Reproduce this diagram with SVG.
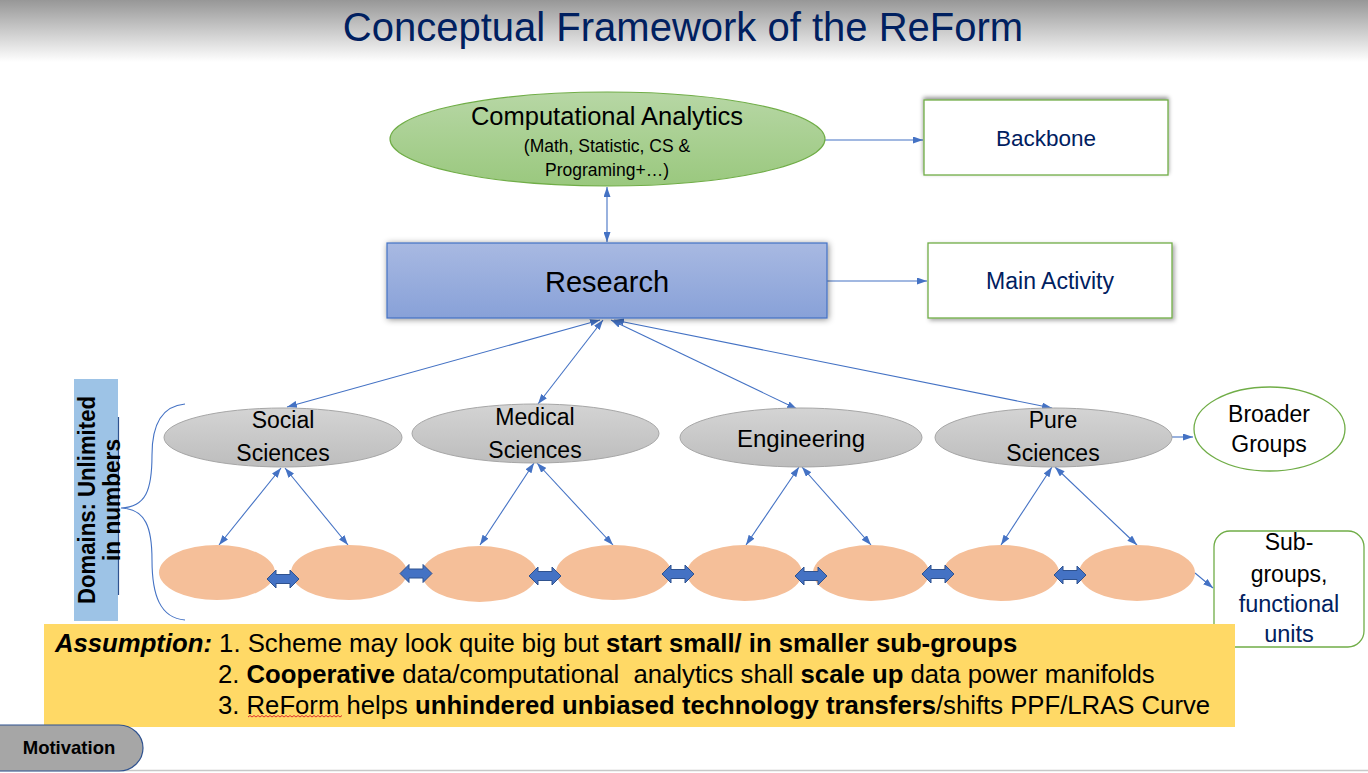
<svg xmlns="http://www.w3.org/2000/svg" width="1368" height="773" viewBox="0 0 1368 773">
<defs>
<linearGradient id="hdr" x1="0" y1="0" x2="0" y2="1"><stop offset="0" stop-color="#979797"/><stop offset="1" stop-color="#ffffff"/></linearGradient>
<linearGradient id="gGreen" x1="0" y1="0" x2="0" y2="1"><stop offset="0" stop-color="#b7d7a5"/><stop offset="1" stop-color="#9ac87e"/></linearGradient>
<linearGradient id="gBlue" x1="0" y1="0" x2="0" y2="1"><stop offset="0" stop-color="#a8b9e2"/><stop offset="1" stop-color="#88a1d8"/></linearGradient>
<linearGradient id="gGray" x1="0" y1="0" x2="0" y2="1"><stop offset="0" stop-color="#d4d4d4"/><stop offset="1" stop-color="#bdbdbd"/></linearGradient>
<filter id="shR" x="-10%" y="-30%" width="120%" height="160%"><feDropShadow dx="1" dy="1" stdDeviation="3" flood-color="#000" flood-opacity="0.45"/></filter>
<filter id="shUp" x="-10%" y="-30%" width="120%" height="160%"><feDropShadow dx="0" dy="-2" stdDeviation="2" flood-color="#000" flood-opacity="0.45"/></filter>
<filter id="shDn" x="-10%" y="-30%" width="120%" height="160%"><feDropShadow dx="2" dy="2" stdDeviation="2" flood-color="#000" flood-opacity="0.35"/></filter>
<marker id="ah" viewBox="0 0 10 7" refX="10" refY="3.5" markerWidth="10" markerHeight="7" markerUnits="userSpaceOnUse" orient="auto-start-reverse"><path d="M0,0 L10,3.5 L0,7 z" fill="#4472c4"/></marker>
<path id="dbl" d="M-16,0 L-7,-9 L-7,-4.5 L7,-4.5 L7,-9 L16,0 L7,9 L7,4.5 L-7,4.5 L-7,9 Z"/>
</defs>
<style>
.t{font-family:"Liberation Sans",Arial,sans-serif;}
.c{text-anchor:middle;}
.k{fill:#000;}
.n{fill:#002060;}
.line{stroke:#4472c4;stroke-width:1.1;fill:none;}
.both{marker-start:url(#ah);marker-end:url(#ah);}
.end{marker-end:url(#ah);}
.dom{fill:url(#gGray);stroke:#a6a6a6;stroke-width:1;}
.sub{fill:#f5bf99;}
.blk{fill:#4472c4;stroke:#2f528f;stroke-width:1;}
.gbox{fill:#fff;stroke:#70ad47;stroke-width:1.3;}
.b{font-weight:bold;}
</style>

<rect x="0" y="0" width="1368" height="62" fill="url(#hdr)"/>
<text class="t c" x="683" y="41" font-size="40" fill="#002060">Conceptual Framework of the ReForm</text>
<line x1="0" y1="770.5" x2="1368" y2="770.5" stroke="#c8c8c8" stroke-width="1.5"/>

<g id="connectors">
<line class="line end" x1="825" y1="140" x2="923" y2="140"/>
<line class="line both" x1="607" y1="187" x2="607" y2="242"/>
<line class="line end" x1="827" y1="281" x2="927" y2="281"/>
<line class="line both" x1="600" y1="320" x2="287" y2="407"/>
<line class="line both" x1="603" y1="320" x2="538" y2="404"/>
<line class="line both" x1="611" y1="320" x2="797" y2="409"/>
<line class="line both" x1="614" y1="320" x2="1052" y2="408"/>
<line class="line end" x1="1172" y1="437" x2="1193" y2="437"/>
<line class="line both" x1="281" y1="468" x2="219" y2="545"/>
<line class="line both" x1="285" y1="468" x2="348" y2="545"/>
<line class="line both" x1="534" y1="463" x2="480" y2="545"/>
<line class="line both" x1="537" y1="463" x2="613" y2="545"/>
<line class="line both" x1="799" y1="467" x2="746" y2="545"/>
<line class="line both" x1="802" y1="467" x2="871" y2="545"/>
<line class="line both" x1="1052" y1="467" x2="1001" y2="545"/>
<line class="line both" x1="1055" y1="467" x2="1137" y2="545"/>
<line class="line end" x1="1195" y1="573" x2="1213" y2="588"/>
</g>

<g id="brace">
<path d="M185,404 C162,406 152,425 152,455 C152,490 146,507 121,508 C146,509 152,528 152,560 C152,595 160,618 185,620" fill="none" stroke="#4472c4" stroke-width="1.1"/>
</g>

<g id="computational-analytics">
<ellipse cx="607.5" cy="139" rx="217.5" ry="47" fill="url(#gGreen)" stroke="#70ad47" stroke-width="1.2"/>
<text class="t c k" x="607" y="125" font-size="25.5">Computational Analytics</text>
<text class="t c k" x="607" y="152" font-size="17.5">(Math, Statistic, CS &amp;</text>
<text class="t c k" x="607" y="176" font-size="17.5">Programing+…)</text>
</g>

<g id="backbone">
<rect class="gbox" x="924" y="100" width="244" height="75" filter="url(#shUp)"/>
<text class="t c n" x="1046" y="146" font-size="22.5">Backbone</text>
</g>

<g id="research">
<rect x="387" y="243" width="440" height="75" fill="url(#gBlue)" stroke="#4472c4" stroke-width="1.2" filter="url(#shR)"/>
<text class="t c k" x="607" y="292" font-size="29">Research</text>
</g>

<g id="main-activity">
<rect class="gbox" x="928" y="243" width="244" height="75" filter="url(#shDn)"/>
<text class="t c n" x="1050" y="289" font-size="23">Main Activity</text>
</g>

<g id="social-sciences">
<ellipse class="dom" cx="283" cy="437.5" rx="119" ry="29.5"/>
<text class="t c k" x="283" y="428" font-size="23">Social</text>
<text class="t c k" x="283" y="461" font-size="23">Sciences</text>
</g>
<g id="medical-sciences">
<ellipse class="dom" cx="535.5" cy="433.5" rx="123.5" ry="29.5"/>
<text class="t c k" x="535" y="425" font-size="23">Medical</text>
<text class="t c k" x="535" y="458" font-size="23">Sciences</text>
</g>
<g id="engineering">
<ellipse class="dom" cx="801" cy="437.5" rx="121" ry="29.5"/>
<text class="t c k" x="801" y="447" font-size="24">Engineering</text>
</g>
<g id="pure-sciences">
<ellipse class="dom" cx="1053.5" cy="437.5" rx="118.5" ry="29.5"/>
<text class="t c k" x="1053" y="428" font-size="23">Pure</text>
<text class="t c k" x="1053" y="461" font-size="23">Sciences</text>
</g>

<g id="broader-groups">
<ellipse cx="1269.5" cy="429" rx="75.5" ry="42" fill="#fff" stroke="#70ad47" stroke-width="1.3"/>
<text class="t c k" x="1269" y="422" font-size="23">Broader</text>
<text class="t c k" x="1269" y="452" font-size="23">Groups</text>
</g>

<g id="sub-groups">
<rect class="gbox" x="1214" y="531" width="150" height="116" rx="16" ry="16"/>
<text class="t c k" x="1289" y="550" font-size="23">Sub-</text>
<text class="t c k" x="1289" y="582" font-size="23">groups,</text>
<text class="t c n" x="1289" y="612" font-size="23.5">functional</text>
<text class="t c n" x="1289" y="642" font-size="23.5">units</text>
</g>

<g id="sub-units">
<ellipse class="sub" cx="217" cy="572.5" rx="58" ry="27.5"/>
<ellipse class="sub" cx="349" cy="572.5" rx="58" ry="27.5"/>
<ellipse class="sub" cx="479.5" cy="574" rx="57.5" ry="28"/>
<ellipse class="sub" cx="613.5" cy="572.5" rx="57.5" ry="27.5"/>
<ellipse class="sub" cx="744.5" cy="573" rx="57.5" ry="28"/>
<ellipse class="sub" cx="871" cy="573" rx="58" ry="28"/>
<ellipse class="sub" cx="1001" cy="573" rx="58" ry="28"/>
<ellipse class="sub" cx="1137" cy="573" rx="58" ry="28"/>
</g>

<g id="block-arrows">
<use href="#dbl" class="blk" x="283" y="579"/>
<use href="#dbl" class="blk" x="416" y="573.5"/>
<use href="#dbl" class="blk" x="545" y="576"/>
<use href="#dbl" class="blk" x="678" y="574"/>
<use href="#dbl" class="blk" x="811" y="576"/>
<use href="#dbl" class="blk" x="938" y="574"/>
<use href="#dbl" class="blk" x="1070" y="575"/>
</g>

<g id="domains-label">
<rect x="74" y="379" width="44" height="242" fill="#9dc3e6"/>
<line x1="118.5" y1="417" x2="118.5" y2="595" stroke="#2f528f" stroke-width="1.2"/>
<text class="t c b k" transform="translate(95,500) rotate(-90)" font-size="24" textLength="208" lengthAdjust="spacingAndGlyphs">Domains: Unlimited</text>
<text class="t c b k" transform="translate(120,500) rotate(-90)" font-size="24" textLength="122" lengthAdjust="spacingAndGlyphs">in numbers</text>
</g>

<g id="assumption">
<rect x="44" y="624" width="1191" height="103" fill="#ffd966"/>
<text class="t k" x="55" y="652" font-size="25.7" xml:space="preserve"><tspan font-weight="bold" font-style="italic">Assumption:</tspan> 1. Scheme may look quite big but <tspan font-weight="bold">start small/ in smaller sub-groups</tspan></text>
<text class="t k" x="218" y="683" font-size="25.7" xml:space="preserve">2. <tspan font-weight="bold">Cooperative</tspan> data/computational  analytics shall <tspan font-weight="bold">scale up</tspan> data power manifolds</text>
<text class="t k" x="218" y="714" font-size="25.7" xml:space="preserve">3. ReForm helps <tspan font-weight="bold">unhindered unbiased technology transfers</tspan>/shifts PPF/LRAS Curve</text>
<path d="M248,717 l2,-1.5 l2,1.5 l2,-1.5 l2,1.5 l2,-1.5 l2,1.5 l2,-1.5 l2,1.5 l2,-1.5 l2,1.5 l2,-1.5 l2,1.5 l2,-1.5 l2,1.5 l2,-1.5 l2,1.5 l2,-1.5 l2,1.5 l2,-1.5 l2,1.5 l2,-1.5 l2,1.5 l2,-1.5 l2,1.5 l2,-1.5 l2,1.5 l2,-1.5 l2,1.5 l2,-1.5 l2,1.5 l2,-1.5 l2,1.5 l2,-1.5 l2,1.5 l2,-1.5 l2,1.5 l2,-1.5 l2,1.5 l2,-1.5 l2,1.5 l2,-1.5 l2,1.5 l2,-1.5 l2,1.5 l2,-1.5 l2,1.5 l2,-1.5" fill="none" stroke="#e03030" stroke-width="1"/>
</g>

<g id="motivation">
<path d="M-30,725 H119 A24,23 0 0 1 143,748 A24,23 0 0 1 119,771 H-30 Z" fill="#a6a6a6" stroke="#2f528f" stroke-width="1.2"/>
<text class="t c b k" x="69" y="754" font-size="18.5">Motivation</text>
</g>
</svg>
